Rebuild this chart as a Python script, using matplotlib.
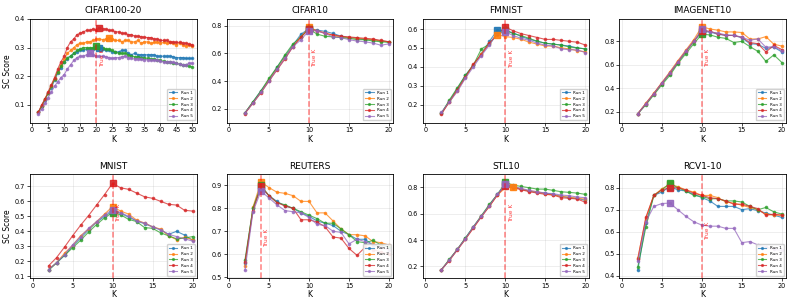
import numpy as np
import matplotlib
matplotlib.use('Agg')
import matplotlib.pyplot as plt

# Donnees : score SC par K, 5 runs par jeu de donnees
k_short = list(range(2, 21))
k_long = list(range(2, 51))
run_labels = ['Run 1', 'Run 2', 'Run 3', 'Run 4', 'Run 5']

cifar100_scores = [
    [0.075, 0.095, 0.115, 0.14, 0.16, 0.185, 0.21, 0.23, 0.25, 0.26, 0.27, 0.28, 0.285, 0.29, 0.29, 0.295,
     0.295, 0.295, 0.298, 0.30, 0.295, 0.29, 0.29, 0.285, 0.285, 0.285, 0.29, 0.29, 0.28, 0.275, 0.28, 0.275,
     0.275, 0.275, 0.275, 0.275, 0.275, 0.27, 0.27, 0.27, 0.27, 0.27, 0.268, 0.265, 0.265, 0.265, 0.262,
     0.262, 0.262],
    [0.075, 0.095, 0.12, 0.14, 0.165, 0.19, 0.215, 0.24, 0.26, 0.28, 0.29, 0.30, 0.31, 0.315, 0.315, 0.32,
     0.32, 0.325, 0.33, 0.33, 0.328, 0.33, 0.335, 0.33, 0.325, 0.325, 0.32, 0.325, 0.325, 0.32, 0.32, 0.325,
     0.315, 0.32, 0.32, 0.315, 0.318, 0.32, 0.315, 0.318, 0.315, 0.318, 0.315, 0.31, 0.315, 0.31, 0.305,
     0.31, 0.305],
    [0.075, 0.095, 0.12, 0.14, 0.165, 0.19, 0.215, 0.235, 0.25, 0.265, 0.27, 0.28, 0.29, 0.295, 0.30, 0.30,
     0.30, 0.30, 0.305, 0.30, 0.30, 0.295, 0.295, 0.29, 0.285, 0.28, 0.28, 0.28, 0.275, 0.27, 0.268, 0.268,
     0.265, 0.265, 0.262, 0.26, 0.26, 0.258, 0.255, 0.252, 0.25, 0.25, 0.245, 0.245, 0.242, 0.24, 0.238,
     0.235, 0.232],
    [0.075, 0.10, 0.12, 0.145, 0.17, 0.195, 0.225, 0.25, 0.27, 0.30, 0.32, 0.33, 0.345, 0.35, 0.355, 0.36,
     0.36, 0.365, 0.36, 0.37, 0.365, 0.365, 0.36, 0.36, 0.355, 0.355, 0.35, 0.35, 0.345, 0.345, 0.34, 0.34,
     0.338, 0.336, 0.335, 0.335, 0.33, 0.33, 0.325, 0.325, 0.325, 0.32, 0.32, 0.318, 0.318, 0.316, 0.315,
     0.312, 0.31],
    [0.068, 0.085, 0.105, 0.125, 0.145, 0.165, 0.18, 0.195, 0.205, 0.225, 0.24, 0.255, 0.265, 0.27, 0.27,
     0.275, 0.28, 0.275, 0.27, 0.27, 0.27, 0.268, 0.265, 0.262, 0.265, 0.265, 0.268, 0.27, 0.265, 0.262,
     0.26, 0.26, 0.26, 0.258, 0.258, 0.258, 0.255, 0.255, 0.252, 0.25, 0.25, 0.25, 0.248, 0.245, 0.242,
     0.24, 0.24, 0.245, 0.245],
]

cifar10_scores = [
    [0.17, 0.25, 0.33, 0.41, 0.50, 0.58, 0.66, 0.74, 0.78, 0.77, 0.76, 0.745, 0.725, 0.715, 0.71, 0.70, 0.70, 0.69, 0.685],
    [0.17, 0.245, 0.32, 0.41, 0.49, 0.57, 0.65, 0.72, 0.79, 0.765, 0.75, 0.73, 0.72, 0.715, 0.71, 0.705, 0.70, 0.69, 0.685],
    [0.17, 0.25, 0.33, 0.42, 0.50, 0.59, 0.67, 0.72, 0.78, 0.74, 0.725, 0.72, 0.715, 0.71, 0.70, 0.70, 0.69, 0.685, 0.68],
    [0.165, 0.24, 0.315, 0.40, 0.48, 0.56, 0.65, 0.72, 0.775, 0.765, 0.745, 0.735, 0.725, 0.72, 0.715, 0.71, 0.705, 0.695, 0.685],
    [0.17, 0.24, 0.32, 0.40, 0.485, 0.565, 0.65, 0.70, 0.765, 0.765, 0.745, 0.72, 0.715, 0.70, 0.69, 0.685, 0.675, 0.66, 0.67],
]

fmnist_scores = [
    [0.155, 0.22, 0.285, 0.355, 0.41, 0.47, 0.535, 0.595, 0.59, 0.58, 0.56, 0.545, 0.535, 0.525, 0.52, 0.515, 0.51, 0.50, 0.495],
    [0.155, 0.215, 0.275, 0.345, 0.41, 0.47, 0.525, 0.57, 0.56, 0.555, 0.545, 0.53, 0.52, 0.51, 0.51, 0.50, 0.495, 0.485, 0.48],
    [0.155, 0.225, 0.29, 0.355, 0.41, 0.495, 0.52, 0.575, 0.595, 0.575, 0.565, 0.55, 0.535, 0.525, 0.52, 0.515, 0.505, 0.50, 0.495],
    [0.15, 0.215, 0.28, 0.345, 0.415, 0.465, 0.525, 0.575, 0.61, 0.59, 0.575, 0.565, 0.555, 0.545, 0.545, 0.54, 0.535, 0.53, 0.515],
    [0.16, 0.215, 0.27, 0.34, 0.40, 0.46, 0.515, 0.58, 0.585, 0.565, 0.55, 0.54, 0.525, 0.515, 0.51, 0.495, 0.49, 0.49, 0.475],
]

imagenet10_scores = [
    [0.185, 0.265, 0.355, 0.44, 0.525, 0.62, 0.71, 0.80, 0.88, 0.88, 0.86, 0.85, 0.85, 0.83, 0.78, 0.775, 0.74, 0.75, 0.71],
    [0.185, 0.275, 0.36, 0.45, 0.54, 0.635, 0.725, 0.815, 0.925, 0.905, 0.895, 0.88, 0.88, 0.875, 0.82, 0.82, 0.84, 0.775, 0.76],
    [0.185, 0.26, 0.345, 0.43, 0.51, 0.61, 0.695, 0.78, 0.86, 0.855, 0.835, 0.825, 0.79, 0.80, 0.755, 0.715, 0.63, 0.685, 0.62],
    [0.185, 0.27, 0.355, 0.445, 0.53, 0.625, 0.715, 0.80, 0.89, 0.885, 0.865, 0.85, 0.85, 0.835, 0.79, 0.78, 0.71, 0.765, 0.73],
    [0.185, 0.27, 0.355, 0.445, 0.535, 0.625, 0.72, 0.80, 0.905, 0.88, 0.87, 0.855, 0.85, 0.835, 0.81, 0.82, 0.75, 0.755, 0.72],
]

mnist_scores = [
    [0.145, 0.19, 0.24, 0.30, 0.355, 0.41, 0.46, 0.50, 0.535, 0.52, 0.495, 0.47, 0.45, 0.43, 0.41, 0.38, 0.40, 0.375, 0.34],
    [0.145, 0.19, 0.255, 0.305, 0.37, 0.415, 0.465, 0.515, 0.565, 0.535, 0.515, 0.475, 0.455, 0.43, 0.415, 0.37, 0.345, 0.36, 0.345],
    [0.14, 0.19, 0.24, 0.29, 0.34, 0.395, 0.445, 0.49, 0.525, 0.51, 0.48, 0.465, 0.425, 0.42, 0.39, 0.37, 0.35, 0.355, 0.365],
    [0.17, 0.225, 0.295, 0.37, 0.44, 0.505, 0.575, 0.645, 0.72, 0.69, 0.68, 0.655, 0.63, 0.62, 0.60, 0.58, 0.575, 0.54, 0.535],
    [0.145, 0.19, 0.245, 0.31, 0.365, 0.42, 0.465, 0.51, 0.545, 0.525, 0.50, 0.47, 0.455, 0.43, 0.41, 0.38, 0.365, 0.35, 0.335],
]

reuters_scores = [
    [0.56, 0.80, 0.89, 0.855, 0.83, 0.81, 0.80, 0.78, 0.765, 0.745, 0.735, 0.725, 0.70, 0.685, 0.665, 0.665, 0.64, 0.64, 0.63],
    [0.55, 0.805, 0.915, 0.89, 0.87, 0.865, 0.855, 0.83, 0.83, 0.78, 0.78, 0.745, 0.71, 0.685, 0.685, 0.68, 0.655, 0.65, 0.64],
    [0.575, 0.80, 0.90, 0.855, 0.825, 0.815, 0.80, 0.785, 0.77, 0.755, 0.735, 0.735, 0.71, 0.685, 0.655, 0.65, 0.66, 0.64, 0.63],
    [0.565, 0.79, 0.895, 0.855, 0.825, 0.81, 0.80, 0.75, 0.75, 0.74, 0.72, 0.675, 0.67, 0.625, 0.595, 0.63, 0.62, 0.61, 0.60],
    [0.53, 0.785, 0.875, 0.845, 0.815, 0.79, 0.785, 0.78, 0.76, 0.73, 0.725, 0.70, 0.695, 0.645, 0.665, 0.655, 0.64, 0.63, 0.62],
]

stl10_scores = [
    [0.175, 0.25, 0.33, 0.415, 0.50, 0.58, 0.665, 0.745, 0.82, 0.80, 0.785, 0.77, 0.76, 0.755, 0.745, 0.73, 0.72, 0.715, 0.70],
    [0.175, 0.25, 0.33, 0.41, 0.495, 0.58, 0.655, 0.74, 0.795, 0.80, 0.785, 0.77, 0.765, 0.75, 0.74, 0.73, 0.725, 0.715, 0.71],
    [0.175, 0.255, 0.33, 0.415, 0.50, 0.585, 0.67, 0.745, 0.835, 0.815, 0.805, 0.795, 0.785, 0.785, 0.775, 0.765, 0.76, 0.755, 0.745],
    [0.175, 0.245, 0.325, 0.405, 0.49, 0.575, 0.655, 0.74, 0.81, 0.795, 0.78, 0.765, 0.755, 0.745, 0.74, 0.72, 0.715, 0.71, 0.685],
    [0.175, 0.25, 0.33, 0.41, 0.50, 0.58, 0.66, 0.745, 0.82, 0.805, 0.79, 0.775, 0.765, 0.755, 0.75, 0.74, 0.735, 0.725, 0.72],
]

rcv1_scores = [
    [0.425, 0.64, 0.765, 0.78, 0.805, 0.79, 0.785, 0.77, 0.755, 0.74, 0.715, 0.715, 0.715, 0.70, 0.705, 0.695, 0.685, 0.675, 0.665],
    [0.48, 0.66, 0.765, 0.795, 0.815, 0.805, 0.79, 0.78, 0.765, 0.765, 0.755, 0.735, 0.73, 0.72, 0.71, 0.70, 0.68, 0.675, 0.675],
    [0.44, 0.62, 0.765, 0.79, 0.82, 0.80, 0.785, 0.765, 0.76, 0.75, 0.75, 0.74, 0.74, 0.735, 0.715, 0.70, 0.71, 0.69, 0.68],
    [0.475, 0.665, 0.765, 0.79, 0.80, 0.80, 0.79, 0.775, 0.765, 0.755, 0.75, 0.74, 0.725, 0.725, 0.715, 0.705, 0.675, 0.68, 0.675],
    [0.465, 0.645, 0.715, 0.728, 0.73, 0.70, 0.67, 0.645, 0.63, 0.625, 0.625, 0.615, 0.615, 0.55, 0.555, 0.54, 0.53, 0.52, 0.515],
]

titles = ['CIFAR100-20', 'CIFAR10', 'FMNIST', 'IMAGENET10', 'MNIST', 'REUTERS', 'STL10', 'RCV1-10']
true_k = [20, 10, 10, 10, 10, 4, 10, 10]
all_scores = [cifar100_scores, cifar10_scores, fmnist_scores, imagenet10_scores,
              mnist_scores, reuters_scores, stl10_scores, rcv1_scores]
all_k = [k_long] + [k_short] * 7

# Limites et position du texte "True K"
y_limits = [(0.038, 0.40), (0.10, 0.85), (0.106, 0.653), (0.11, 0.99),
            (0.09, 0.78), (0.497, 0.948), (0.114, 0.897), (0.39, 0.861)]
y_ticks = [[0.1, 0.2, 0.3, 0.4], [0.2, 0.4, 0.6, 0.8], [0.2, 0.3, 0.4, 0.5, 0.6], [0.2, 0.4, 0.6, 0.8],
           [0.1, 0.2, 0.3, 0.4, 0.5, 0.6, 0.7], [0.5, 0.6, 0.7, 0.8, 0.9], [0.2, 0.4, 0.6, 0.8],
           [0.4, 0.5, 0.6, 0.7, 0.8]]
text_pos = [0.54, 0.54, 0.53, 0.54, 0.54, 0.30, 0.54, 0.37]
colors = ['#1f77b4', '#ff7f0e', '#2ca02c', '#d62728', '#9467bd']


def plot_panel(ax, idx):
    ks = all_k[idx]
    for r, scores in enumerate(all_scores[idx]):
        ax.plot(ks, scores, '-o', color=colors[r], lw=0.8, markersize=1.6,
                alpha=0.75, label=run_labels[r])
    # Carre sur le meilleur K de chaque run
    for r, scores in enumerate(all_scores[idx]):
        best = int(np.argmax(scores))
        ax.plot(ks[best], scores[best], 's', color=colors[r], markersize=4.2, alpha=0.9)

    ax.axvline(true_k[idx], color='red', ls='--', lw=1.1, alpha=0.5)
    ax.annotate('True K', xy=(true_k[idx], text_pos[idx]), xycoords=('data', 'axes fraction'),
                xytext=(2.5, 0), textcoords='offset points', rotation=90,
                color='red', fontsize=4.2, alpha=0.75, ha='left', va='bottom')

    ax.set_title(titles[idx], fontsize=6.5, pad=4)
    ax.set_xlabel('K', fontsize=5.5, labelpad=1)
    if idx % 4 == 0:
        ax.set_ylabel('SC Score', fontsize=5.5, labelpad=2)
    ax.set_ylim(*y_limits[idx])
    ax.set_yticks(y_ticks[idx])
    if idx == 0:
        ax.set_xlim(-0.6, 51.3)
        ax.set_xticks(range(0, 51, 5))
    else:
        ax.set_xlim(-0.3, 20.5)
        ax.set_xticks([0, 5, 10, 15, 20])
    ax.tick_params(labelsize=4.7, length=2, width=0.5, pad=1.5)
    ax.grid(True, alpha=0.3, lw=0.5)
    for s in ax.spines.values():
        s.set_linewidth(0.6)
    ax.legend(loc='lower right', fontsize=3, markerscale=0.8, handlelength=2,
              borderpad=0.5, labelspacing=0.45, framealpha=0.9)


if __name__ == "__main__":
    fig, axes = plt.subplots(2, 4, figsize=(7.93, 3.06), dpi=100)
    fig.subplots_adjust(left=0.038, right=0.991, top=0.938, bottom=0.092, wspace=0.18, hspace=0.5)
    for i, ax in enumerate(axes.flat):
        plot_panel(ax, i)
    fig.savefig('out.png', dpi=100)
